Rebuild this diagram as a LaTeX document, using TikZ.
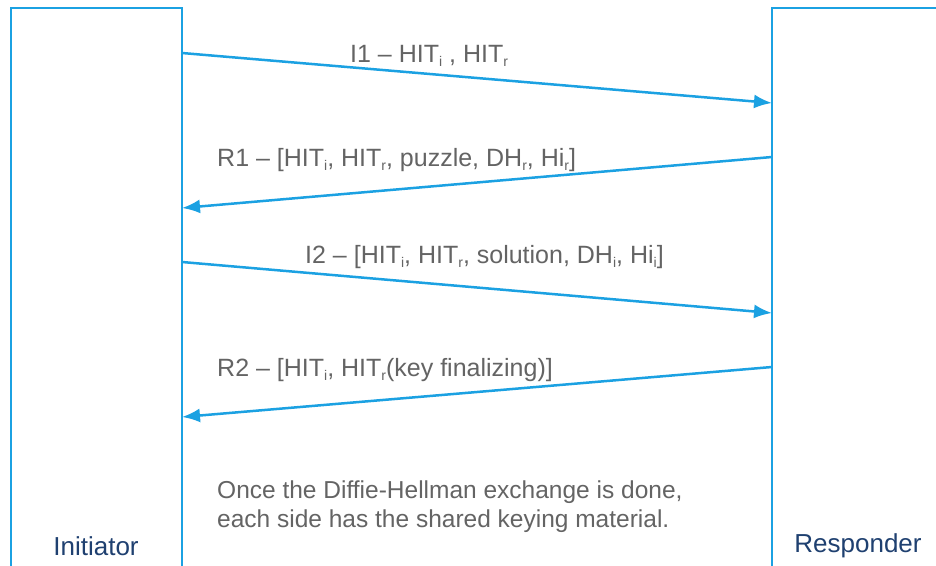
\documentclass[tikz,border=0pt]{standalone}
\usepackage{fontspec}
\setmainfont{Liberation Sans}
\usetikzlibrary{arrows.meta}
\definecolor{hipblue}{RGB}{27,161,226}
\definecolor{msggray}{RGB}{100,100,100}
\definecolor{sidenavy}{RGB}{31,64,112}
\newcommand\lo[1]{\raisebox{-0.35ex}{\fontsize{14}{14}\selectfont #1}}
\tikzset{
  lifeline/.style={draw=hipblue, line width=1.6pt},
  msg/.style={draw=hipblue, line width=2.5pt, -{Latex[length=18pt,width=14pt]}},
  msglabel/.style={text=msggray, font=\fontsize{25}{30}\selectfont, inner sep=0pt},
  side/.style={text=sidenavy, font=\fontsize{26}{30}\selectfont, inner sep=0pt}
}
\begin{document}
\begin{tikzpicture}[x=1pt, y=-1pt]
\useasboundingbox (0,0) rectangle (936,565);
\fill[white] (0,0) rectangle (936,565);
% the two sides
\draw[lifeline] (11,566) -- (11,8) -- (182,8) -- (182,566);
\draw[lifeline] (772,566) -- (772,8) -- (937,8);
\node[side] (ini) at (96,546) {Initiator};
\node[side] (res) at (858,546) {Responder};

% end points of the messages
\coordinate (i1a) at (182,53);  \coordinate (i1b) at (772,103);
\coordinate (r1a) at (772,157); \coordinate (r1b) at (182,208);
\coordinate (i2a) at (182,262); \coordinate (i2b) at (772,313);
\coordinate (r2a) at (772,367); \coordinate (r2b) at (182,417);

\draw[msg] (i1a) -- (i1b);
\draw[msg] (r1a) -- (r1b);
\draw[msg] (i2a) -- (i2b);
\draw[msg] (r2a) -- (r2b);

\node[msglabel, anchor=base west] (i1) at (350,62) {I1 -- HIT\lo{i} , HIT\lo{r}};
\node[msglabel, anchor=base west] (r1) at (217,166) {R1 -- [HIT\lo{i}, HIT\lo{r}, puzzle, DH\lo{r}, Hi\lo{r}]};
\node[msglabel, anchor=base west] (i2) at (305,263) {I2 -- [HIT\lo{i}, HIT\lo{r}, solution, DH\lo{i}, Hi\lo{i}]};
\node[msglabel, anchor=base west] (r2) at (217,376) {R2 -- [HIT\lo{i}, HIT\lo{r}(key finalizing)]};

\node[msglabel, anchor=north west, align=left, font=\fontsize{24.5}{29}\selectfont] (note) at (217,481)
  {Once the Diffie-Hellman exchange is done,\\each side has the shared keying material.};
\end{tikzpicture}
\end{document}
